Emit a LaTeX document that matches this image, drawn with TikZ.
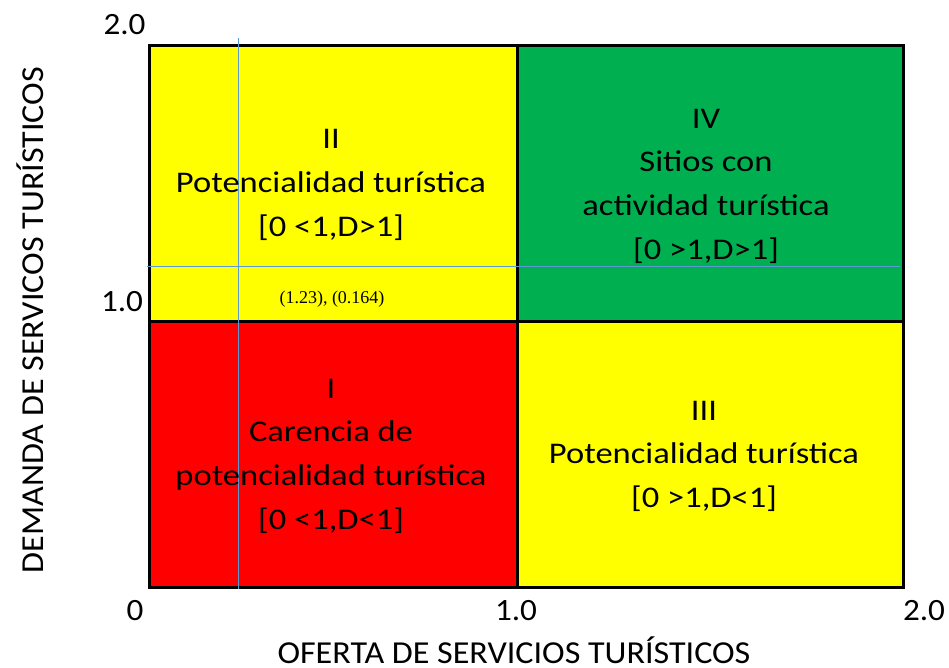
\documentclass[tikz,border=0pt]{standalone}
\usepackage{graphicx}
\usepackage{fontspec}
\setmainfont{Carlito}
\newfontfamily\smallserif{Liberation Serif}
\definecolor{qyellow}{HTML}{FFFF00}
\definecolor{qred}{HTML}{FF0000}
\definecolor{qgreen}{HTML}{00B050}
\definecolor{gridblue}{HTML}{5B9BD5}
\newcommand{\qwide}[1]{\scalebox{1.15}[1]{#1}}
\newcommand{\awide}[1]{\scalebox{1.065}[1]{#1}}
\newcommand{\twide}[1]{\scalebox{1.07}[1]{#1}}
\begin{document}
\begin{tikzpicture}[x=1pt,y=-1pt,
  quad/.style={draw=black,line width=3pt,minimum height=276pt,inner sep=0pt,anchor=north west},
  quadlow/.style={quad,minimum height=266pt},
  qline/.style={anchor=base,font=\fontsize{30}{36}\selectfont,inner sep=0pt},
  ticklab/.style={anchor=base,font=\fontsize{31}{36}\selectfont,inner sep=0pt},
  axlab/.style={anchor=base,font=\fontsize{32}{36}\selectfont,inner sep=0pt},
  guide/.style={draw=gridblue,line width=1pt}]
\useasboundingbox (0,0) rectangle (949,667);
% quadrants
\node[quad,minimum width=368pt,fill=qyellow] (q2) at (148,44) {};
\node[quad,minimum width=386pt,fill=qgreen] (q4) at (516,44) {};
\node[quadlow,minimum width=368pt,fill=qred] (q1) at (148,320) {};
\node[quadlow,minimum width=386pt,fill=qyellow] (q3) at (516,320) {};
% guide lines
\coordinate (vtop) at (238,38);
\coordinate (vbot) at (238,589);
\coordinate (hleft) at (147,266.5);
\coordinate (hright) at (900,266.5);
\draw[guide] (vtop) -- (vbot);
\draw[guide] (hleft) -- (hright);
% quadrant II
\node[qline] (t2a) at (331,148) {\qwide{II}};
\node[qline] (t2b) at (331,192) {\qwide{Potencialidad turística}};
\node[qline] (t2c) at (331,236) {\qwide{[0 <1,D>1]}};
% quadrant IV
\node[qline] (t4a) at (706,128) {\qwide{IV}};
\node[qline] (t4b) at (706,171) {\qwide{Sitios con}};
\node[qline] (t4c) at (706,215) {\qwide{actividad turística}};
\node[qline] (t4d) at (706,259) {\qwide{[0 >1,D>1]}};
% quadrant I
\node[qline] (t1a) at (331,398) {\qwide{I}};
\node[qline] (t1b) at (331,441) {\qwide{Carencia de}};
\node[qline] (t1c) at (331,485) {\qwide{potencialidad turística}};
\node[qline] (t1d) at (331,529) {\qwide{[0 <1,D<1]}};
% quadrant III
\node[qline] (t3a) at (704,420) {\qwide{III}};
\node[qline] (t3b) at (704,463) {\qwide{Potencialidad turística}};
\node[qline] (t3c) at (704,507) {\qwide{[0 >1,D<1]}};
% point label
\node[anchor=base,font=\smallserif\fontsize{18}{20}\selectfont,inner sep=0pt] (pt) at (332,303) {(1.23), (0.164)};
% tick labels
\node[ticklab] (y2) at (124.5,34) {\twide{2.0}};
\node[ticklab] (y1) at (122,311) {\twide{1.0}};
\node[ticklab] (x0) at (135,620) {\twide{0}};
\node[ticklab] (x1) at (516,620) {\twide{1.0}};
\node[ticklab] (x2) at (924,620) {\twide{2.0}};
% axis labels
\node[axlab] (xl) at (514,663) {\awide{OFERTA DE SERVICIOS TURÍSTICOS}};
\node[axlab,rotate=90] (yl) at (43,320) {\awide{DEMANDA DE SERVICOS TURÍSTICOS}};
\end{tikzpicture}
\end{document}
